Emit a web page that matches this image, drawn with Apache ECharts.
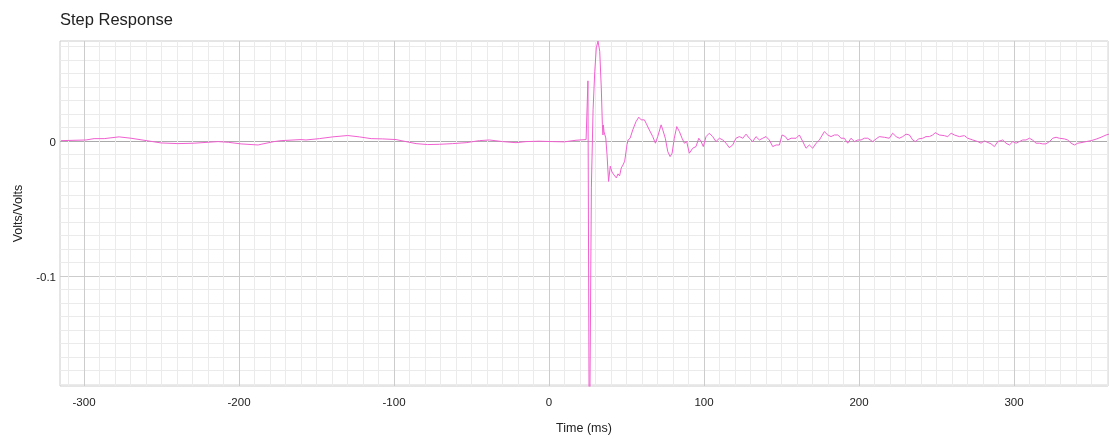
<!DOCTYPE html>
<html>
<head>
<meta charset="utf-8">
<script src="https://cdn.jsdelivr.net/npm/echarts@6/dist/echarts.min.js"></script>
<style>
html,body{margin:0;padding:0;background:#fff;}
#chart{width:1109px;height:439px;}
</style>
</head>
<body>
<div id="chart"></div>
<script>
// ---- data ----
const timeMs = [
  -314.8,-298.7,-293.5,-287.0,-277.4,-269.7,-261.3,-250.3,-239.4,-229.0,-220.0,-213.5,-207.0,-198.7,-187.7,-185.8,-177.4,-172.9,-160.0,
  -156.8,-148.2,-139.5,-129.9,-122.4,-114.8,-107.3,-98.7,-92.3,-85.8,-78.3,-70.8,-62.1,-53.5,-45.0,-38.5,-29.9,-21.3,-14.8,-6.3,2.4,9.9,17.4,23.9,
  24.97,25.1,26.0,27.3,28.4,29.5,30.5,31.6,32.7,33.7,34.4,34.8,35.0,35.5,35.9,36.6,37.4,38.4,39.5,40.6,41.9,43.4,44.5,45.5,46.6,47.7,48.8,50.3,51.0,
  52.3,54.0,56.1,57.9,59.4,61.5,62.6,64.7,66.9,68.6,70.1,72.3,73.4,75.0,76.6,78.1,79.4,80.8,82.4,84.1,85.8,87.3,88.8,90.5,92.7,94.8,96.6,98.1,99.5,
  101.3,103.4,105.6,107.7,109.9,112.1,114.2,116.3,118.5,120.6,122.8,125.0,127.1,129.2,
  131.4,133.5,135.7,137.9,140.0,142.1,144.3,146.5,148.6,150.3,152.5,154.0,156.1,159.4,161.5,163.7,165.8,167.9,170.1,172.3,174.4,177.6,179.8,181.9,
  184.1,186.3,188.4,190.5,192.7,194.8,197.0,199.2,201.3,203.4,205.6,208.8,
  211.0,213.1,216.3,219.5,221.7,223.9,226.0,228.2,230.3,232.5,234.6,236.3,238.5,241.1,243.2,245.4,247.5,249.2,251.8,255.0,257.2,259.4,261.5,264.7,
  267.9,270.1,273.4,276.6,278.7,280.8,
  281.9,285.2,287.3,289.5,292.7,294.8,297.0,299.2,301.3,303.4,305.6,307.7,309.9,312.1,314.2,316.3,318.5,320.6,322.8,325.0,327.1,329.2,332.5,334.6,
  336.8,338.9,341.1,343.2,346.5,349.7,352.9,356.1,359.4,361.9
];
const volts = [
  0.0002,0.0007,0.0017,0.0017,0.0030,0.0020,0.0005,-0.0015,-0.0020,-0.0017,-0.0010,-0.0005,-0.0010,-0.0022,-0.0030,-0.0025,-0.0005,0.0002,0.0010,
  0.0007,0.0017,0.0030,0.0040,0.0030,0.0017,0.0015,0.0010,-0.0005,-0.0020,-0.0027,-0.0025,-0.0020,-0.0013,0.0002,0.0007,-0.0005,-0.0013,-0.0005,-0.0002,-0.0005,-0.0007,0.0005,0.0010,
  0.0015,0.0445,-0.2500,-0.0348,0.0230,0.0516,0.0689,0.0739,0.0664,0.0393,0.0121,0.0044,0.0119,0.0067,0.0081,0.0022,-0.0101,-0.0300,-0.0187,-0.0230,-0.0252,-0.0274,-0.0244,-0.0259,-0.0200,-0.0178,-0.0150,-0.0027,0.0007,
  0.0020,0.0081,0.0143,0.0176,0.0156,0.0156,0.0131,0.0081,0.0032,-0.0017,0.0032,0.0119,0.0081,0.0020,-0.0079,-0.0116,-0.0091,0.0020,0.0106,0.0069,0.0020,-0.0017,-0.0005,-0.0091,-0.0054,-0.0042,0.0020,-0.0005,-0.0042,
  0.0032,0.0057,0.0032,-0.0005,0.0020,0.0007,-0.0017,-0.0050,-0.0030,0.0020,0.0032,0.0020,0.0050,0.0020,
  -0.0005,0.0032,0.0007,0.0020,0.0032,0.0007,-0.0042,-0.0030,-0.0030,0.0044,0.0032,0.0007,0.0020,0.0020,0.0044,-0.0005,-0.0054,-0.0030,-0.0054,-0.0017,0.0007,0.0069,0.0044,0.0032,
  0.0044,0.0044,0.0020,0.0020,-0.0017,0.0020,-0.0005,0.0007,0.0007,0.0020,0.0020,-0.0005,
  0.0015,0.0032,0.0027,0.0020,0.0057,0.0032,0.0020,0.0032,0.0050,0.0044,0.0007,-0.0005,0.0015,0.0020,0.0032,0.0032,0.0044,0.0061,0.0044,0.0039,0.0032,0.0057,0.0044,0.0032,
  0.0039,0.0020,0.0007,-0.0005,-0.0017,0.0000,
  -0.0005,-0.0022,-0.0042,-0.0005,0.0007,-0.0017,-0.0030,-0.0005,-0.0017,-0.0005,0.0007,0.0007,0.0020,0.0005,-0.0017,-0.0017,-0.0022,-0.0022,-0.0005,0.0020,0.0027,0.0020,0.0015,0.0007,
  -0.0017,-0.0030,-0.0017,-0.0013,-0.0005,0.0002,0.0013,0.0027,0.0044,0.0052
];
const xTickLabels = [-300, -200, -100, 0, 100, 200, 300];
const yTickLabels = [-0.1, 0];
const xRange = [-315.5, 360.6];
const yRange = [-0.1815, 0.0740];

// minor gridlines (every 10 ms and every 0.01 V/V)
const xMinor = [];
for (let v = -310; v <= 360; v += 10) xMinor.push(v);
const yMinor = [];
for (let k = -18; k <= 7; k++) yMinor.push(k / 100);

const seriesData = timeMs.map((t, i) => [t, volts[i]]);

const FONT = '"Liberation Sans", Arial, sans-serif';
const chart = echarts.init(document.getElementById('chart'), null, {renderer: 'canvas'});
chart.setOption({
  animation: false,
  backgroundColor: '#ffffff',
  title: {
    text: 'Step Response',
    left: 55, top: 7,
    textStyle: {fontFamily: FONT, fontSize: 16.5, fontWeight: 'normal', color: '#222222'}
  },
  grid: {left: 60, right: 1, top: 41, bottom: 53, show: true, borderColor: '#cccccc', borderWidth: 1,
    containLabel: false, outerBoundsMode: 'none'},
  xAxis: [
    {
      type: 'value', position: 'bottom', min: xRange[0], max: xRange[1],
      axisLine: {show: false}, axisLabel: {show: false},
      axisTick: {show: false, customValues: xMinor},
      splitLine: {show: true, lineStyle: {color: '#ebebeb', width: 1}}
    },
    {
      type: 'value', position: 'bottom', min: xRange[0], max: xRange[1],
      name: 'Time (ms)', nameLocation: 'middle', nameGap: 36,
      nameTextStyle: {fontFamily: FONT, fontSize: 12.5, color: '#222222'},
      axisLine: {show: false},
      axisTick: {show: false, customValues: xTickLabels},
      axisLabel: {customValues: xTickLabels, fontFamily: FONT, fontSize: 11.5, color: '#222222', margin: 11},
      splitLine: {show: true, lineStyle: {color: '#cccccc', width: 1}}
    }
  ],
  yAxis: [
    {
      type: 'value', position: 'left', min: yRange[0], max: yRange[1],
      axisLine: {show: false}, axisLabel: {show: false},
      axisTick: {show: false, customValues: yMinor},
      splitLine: {show: true, lineStyle: {color: '#ebebeb', width: 1}}
    },
    {
      type: 'value', position: 'left', min: yRange[0], max: yRange[1],
      name: 'Volts/Volts', nameLocation: 'middle', nameGap: 35, nameRotate: 90,
      nameTextStyle: {fontFamily: FONT, fontSize: 12.5, color: '#222222'},
      axisLine: {show: false},
      axisTick: {show: false, customValues: yTickLabels},
      axisLabel: {customValues: yTickLabels, fontFamily: FONT, fontSize: 11.5, color: '#222222', margin: 4,
        verticalAlign: 'top', lineHeight: 4,
        formatter: v => (v === 0 ? '0' : String(v))},
      splitLine: {show: true, lineStyle: {color: ['#cccccc', '#aaaaaa'], width: 1}}
    }
  ],
  series: [{
    type: 'line',
    xAxisIndex: 1, yAxisIndex: 1,
    data: seriesData,
    showSymbol: false,
    clip: true,
    lineStyle: {color: '#f060d0', width: 1},
    itemStyle: {color: '#f060d0'}
  }]
});
</script>
</body>
</html>
